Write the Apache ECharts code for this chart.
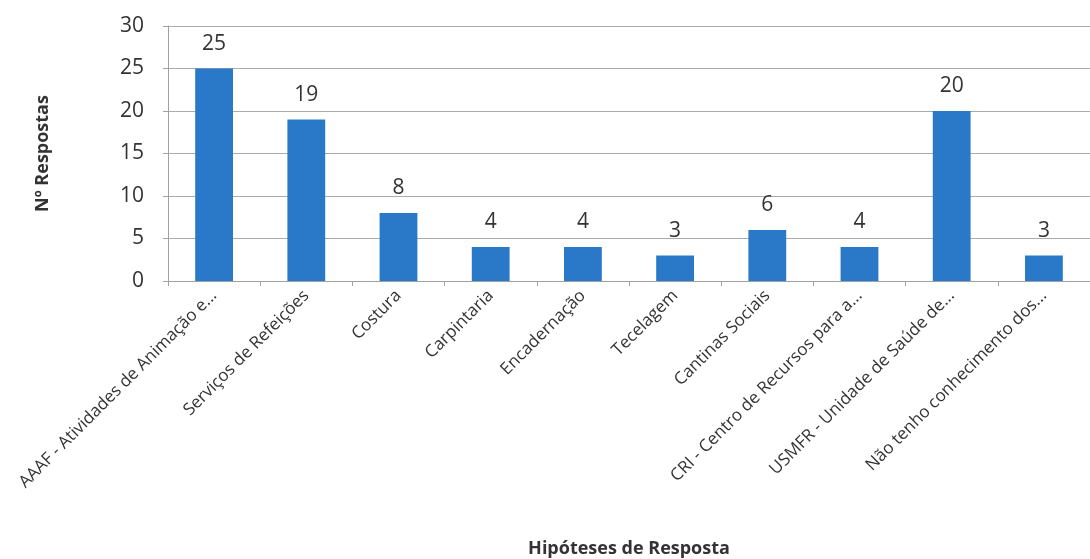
<!DOCTYPE html>
<html>
<head>
<meta charset="utf-8">
<script src="https://cdn.jsdelivr.net/npm/echarts@6/dist/echarts.min.js"></script>
<style>
html,body{margin:0;padding:0;background:#fff;}
#chart{width:1090px;height:559px;}
</style>
</head>
<body>
<div id="chart"></div>
<script>
const categories = [
  "AAAF - Atividades de Animação e...",
  "Serviços de Refeições",
  "Costura",
  "Carpintaria",
  "Encadernação",
  "Tecelagem",
  "Cantinas Sociais",
  "CRI - Centro de Recursos para a...",
  "USMFR - Unidade de Saúde de...",
  "Não tenho conhecimento dos..."
];
const respostas = [25, 19, 8, 4, 4, 3, 6, 4, 20, 3];
const yTicks = { min: 0, max: 30, interval: 5 };
const xAxisTitle = "Hipóteses de Resposta";
const yAxisTitle = "Nº Respostas";

const font = "'Open Sans', 'Noto Sans', sans-serif";
const textColor = "#333333";
const chart = echarts.init(document.getElementById('chart'), null, {renderer: 'canvas'});
chart.setOption({
  animation: false,
  backgroundColor: '#ffffff',
  textStyle: { fontFamily: font },
  grid: { left: 168, right: -8, top: 26, bottom: 271, containLabel: false },
  xAxis: {
    type: 'category',
    data: categories,
    name: xAxisTitle,
    nameLocation: 'middle',
    nameGap: 259,
    nameTextStyle: { fontFamily: font, fontSize: 18, fontWeight: 'bold', color: textColor },
    axisLine: { show: true, lineStyle: { color: '#a0a0a0', width: 1 } },
    axisTick: { show: true, alignWithLabel: false, length: 5, lineStyle: { color: '#a0a0a0' } },
    axisLabel: { interval: 0, rotate: 45, fontSize: 17, color: textColor, fontFamily: font, margin: 12 },
    splitLine: { show: false }
  },
  yAxis: {
    type: 'value',
    min: yTicks.min,
    max: yTicks.max,
    interval: yTicks.interval,
    name: yAxisTitle,
    nameLocation: 'middle',
    nameRotate: 90,
    nameGap: 116,
    nameTextStyle: { fontFamily: font, fontSize: 18, fontWeight: 'bold', color: textColor },
    axisLine: { show: true, lineStyle: { color: '#a0a0a0', width: 1 } },
    axisTick: { show: true, length: 5, lineStyle: { color: '#a0a0a0' } },
    axisLabel: { fontSize: 21, color: textColor, fontFamily: font, margin: 24 },
    splitLine: { show: true, lineStyle: { color: '#ababab', width: 1 } }
  },
  series: [{
    type: 'bar',
    data: respostas,
    barWidth: '41%',
    itemStyle: { color: '#2a78c8' },
    label: { show: true, position: 'top', distance: 14, fontSize: 21, color: textColor, fontFamily: font }
  }]
});
</script>
</body>
</html>
